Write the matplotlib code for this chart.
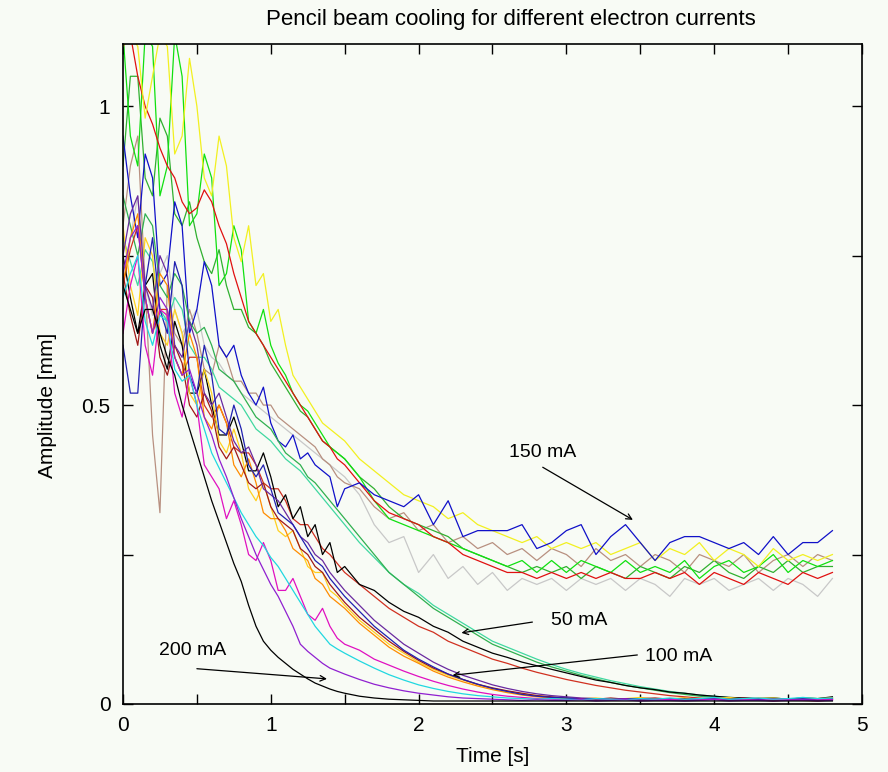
"""Pencil beam cooling curves for several electron currents."""
import matplotlib
matplotlib.use("Agg")
import matplotlib.pyplot as plt
from matplotlib import font_manager

BG = "#f8fbf5"
FIGSIZE = (8.88, 7.72)

# sampling times [s]: 0.05 s steps while the signal is noisy, 0.1 s after
time_s = [0.0, 0.05, 0.1, 0.15, 0.2, 0.25, 0.3, 0.35, 0.4, 0.45,
          0.5, 0.55, 0.6, 0.65, 0.7, 0.75, 0.8, 0.85, 0.9, 0.95,
          1.0, 1.05, 1.1, 1.15, 1.2, 1.25, 1.3, 1.35, 1.4, 1.45,
          1.5, 1.6, 1.7, 1.8, 1.9,
          2.0, 2.1, 2.2, 2.3, 2.4, 2.5, 2.6, 2.7, 2.8, 2.9,
          3.0, 3.1, 3.2, 3.3, 3.4, 3.5, 3.6, 3.7, 3.8, 3.9,
          4.0, 4.1, 4.2, 4.3, 4.4, 4.5, 4.6, 4.7, 4.8]

# --- 150 mA (levels off around 0.2-0.3 mm)
amp_150_blue = [0.95, 0.85, 0.78, 0.92, 0.88, 0.70, 0.72, 0.84, 0.80, 0.62,
                0.66, 0.74, 0.70, 0.60, 0.58, 0.60, 0.55, 0.52, 0.50, 0.53,
                0.47, 0.44, 0.43, 0.45, 0.41, 0.42, 0.40, 0.39, 0.38, 0.33,
                0.36, 0.37, 0.35, 0.34, 0.33,
                0.35, 0.30, 0.34, 0.28, 0.29, 0.29, 0.29, 0.30, 0.26, 0.27,
                0.29, 0.30, 0.25, 0.28, 0.30, 0.27, 0.24, 0.27, 0.28, 0.28,
                0.27, 0.26, 0.27, 0.25, 0.28, 0.25, 0.27, 0.27, 0.29]
amp_150_yellow = [1.10, 1.12, 1.10, 0.98, 1.05, 1.12, 1.10, 0.92, 0.95, 1.08,
                  1.00, 0.88, 0.85, 0.95, 0.90, 0.78, 0.74, 0.80, 0.70, 0.72,
                  0.64, 0.66, 0.60, 0.55, 0.53, 0.51, 0.49, 0.47, 0.46, 0.45,
                  0.44, 0.41, 0.39, 0.37, 0.35,
                  0.34, 0.33, 0.31, 0.32, 0.30, 0.29, 0.28, 0.27, 0.28, 0.26,
                  0.27, 0.26, 0.27, 0.25, 0.26, 0.27, 0.24, 0.26, 0.25, 0.27,
                  0.24, 0.26, 0.25, 0.23, 0.26, 0.24, 0.25, 0.24, 0.25]
amp_150_red = [1.10, 1.12, 1.05, 1.00, 0.97, 0.93, 0.90, 0.88, 0.84, 0.82,
               0.83, 0.86, 0.84, 0.80, 0.77, 0.72, 0.68, 0.64, 0.62, 0.60,
               0.58, 0.56, 0.54, 0.52, 0.50, 0.48, 0.46, 0.44, 0.43, 0.41,
               0.40, 0.37, 0.34, 0.32, 0.31,
               0.30, 0.28, 0.27, 0.25, 0.24, 0.23, 0.22, 0.22, 0.21, 0.22,
               0.21, 0.22, 0.21, 0.22, 0.21, 0.21, 0.22, 0.21, 0.22, 0.20,
               0.22, 0.21, 0.20, 0.22, 0.21, 0.20, 0.22, 0.21, 0.22]
amp_150_lime = [1.12, 0.95, 0.90, 1.12, 1.10, 0.85, 0.90, 1.12, 1.05, 0.80,
                0.82, 0.92, 0.88, 0.70, 0.72, 0.80, 0.76, 0.64, 0.62, 0.66,
                0.60, 0.57, 0.55, 0.52, 0.50, 0.49, 0.47, 0.45, 0.43, 0.42,
                0.41, 0.38, 0.34, 0.31, 0.30,
                0.29, 0.28, 0.27, 0.26, 0.25, 0.24, 0.23, 0.24, 0.22, 0.24,
                0.22, 0.24, 0.23, 0.22, 0.24, 0.22, 0.23, 0.22, 0.24, 0.21,
                0.23, 0.24, 0.22, 0.23, 0.25, 0.22, 0.24, 0.23, 0.24]
amp_150_green = [0.90, 1.05, 1.05, 0.88, 0.85, 0.98, 0.95, 0.82, 0.80, 0.84,
                 0.78, 0.74, 0.72, 0.76, 0.70, 0.66, 0.66, 0.63, 0.62, 0.60,
                 0.57, 0.55, 0.53, 0.51, 0.49, 0.48, 0.46, 0.44, 0.43, 0.42,
                 0.41, 0.38, 0.36, 0.33, 0.31,
                 0.30, 0.29, 0.28, 0.26, 0.25, 0.24, 0.23, 0.22, 0.23, 0.22,
                 0.23, 0.21, 0.23, 0.22, 0.21, 0.23, 0.22, 0.21, 0.23, 0.22,
                 0.24, 0.22, 0.21, 0.23, 0.22, 0.24, 0.22, 0.23, 0.23]
amp_150_tan = [0.80, 0.90, 0.95, 0.70, 0.45, 0.32, 0.70, 0.62, 0.60, 0.66,
               0.62, 0.56, 0.55, 0.60, 0.58, 0.54, 0.54, 0.52, 0.52, 0.50,
               0.50, 0.48, 0.47, 0.46, 0.45, 0.44, 0.43, 0.41, 0.40, 0.38,
               0.37, 0.36, 0.33, 0.31, 0.32,
               0.29, 0.30, 0.27, 0.28, 0.26, 0.27, 0.25, 0.26, 0.24, 0.26,
               0.25, 0.23, 0.26, 0.24, 0.25, 0.23, 0.25, 0.24, 0.22, 0.25,
               0.24, 0.23, 0.25, 0.22, 0.24, 0.25, 0.23, 0.25, 0.24]
amp_150_silver = [0.70, 0.78, 0.85, 0.70, 0.65, 0.72, 0.75, 0.66, 0.62, 0.64,
                  0.66, 0.60, 0.58, 0.57, 0.55, 0.54, 0.52, 0.51, 0.50, 0.49,
                  0.48, 0.47, 0.46, 0.45, 0.44, 0.43, 0.42, 0.41, 0.40, 0.39,
                  0.38, 0.35, 0.30, 0.27, 0.28,
                  0.22, 0.25, 0.21, 0.23, 0.20, 0.22, 0.19, 0.21, 0.20, 0.21,
                  0.19, 0.21, 0.20, 0.21, 0.19, 0.21, 0.20, 0.18, 0.21, 0.20,
                  0.21, 0.19, 0.20, 0.21, 0.19, 0.21, 0.20, 0.18, 0.21]

# --- 50 mA (slow decay to zero)
amp_50_black = [0.75, 0.68, 0.62, 0.70, 0.72, 0.60, 0.56, 0.64, 0.60, 0.52,
                0.52, 0.56, 0.50, 0.45, 0.45, 0.48, 0.44, 0.39, 0.39, 0.42,
                0.38, 0.33, 0.35, 0.31, 0.33, 0.28, 0.30, 0.25, 0.27, 0.22,
                0.23, 0.20, 0.19, 0.17, 0.155,
                0.145, 0.13, 0.12, 0.105, 0.095, 0.085, 0.078, 0.07, 0.064, 0.058,
                0.052, 0.046, 0.04, 0.036, 0.031, 0.027, 0.024, 0.02, 0.018, 0.015,
                0.013, 0.011, 0.01, 0.009, 0.01, 0.008, 0.01, 0.009, 0.012]
amp_50_green = [0.85, 0.80, 0.75, 0.82, 0.80, 0.70, 0.68, 0.72, 0.70, 0.64,
                0.62, 0.63, 0.60, 0.56, 0.55, 0.54, 0.52, 0.50, 0.48, 0.47,
                0.46, 0.44, 0.42, 0.41, 0.40, 0.38, 0.37, 0.355, 0.34, 0.325,
                0.31, 0.28, 0.25, 0.22, 0.20,
                0.18, 0.16, 0.145, 0.13, 0.115, 0.10, 0.09, 0.08, 0.07, 0.062,
                0.055, 0.048, 0.042, 0.036, 0.031, 0.027, 0.023, 0.019, 0.016, 0.013,
                0.011, 0.009, 0.008, 0.007, 0.008, 0.007, 0.008, 0.007, 0.009]
amp_50_aqua = [0.78, 0.74, 0.70, 0.76, 0.74, 0.66, 0.64, 0.68, 0.66, 0.60,
               0.58, 0.58, 0.56, 0.53, 0.52, 0.51, 0.50, 0.48, 0.46, 0.45,
               0.44, 0.425, 0.41, 0.40, 0.39, 0.375, 0.36, 0.345, 0.33, 0.315,
               0.30, 0.27, 0.245, 0.22, 0.20,
               0.185, 0.165, 0.15, 0.135, 0.12, 0.105, 0.095, 0.085, 0.075, 0.066,
               0.058, 0.051, 0.045, 0.039, 0.034, 0.029, 0.025, 0.021, 0.018, 0.015,
               0.013, 0.011, 0.01, 0.009, 0.01, 0.008, 0.01, 0.009, 0.011]
amp_50_red = [0.70, 0.76, 0.80, 0.68, 0.62, 0.66, 0.66, 0.58, 0.55, 0.58,
              0.58, 0.50, 0.48, 0.50, 0.47, 0.43, 0.42, 0.42, 0.40, 0.37,
              0.36, 0.36, 0.34, 0.31, 0.30, 0.30, 0.28, 0.26, 0.25, 0.235,
              0.22, 0.20, 0.18, 0.16, 0.145,
              0.13, 0.12, 0.105, 0.095, 0.085, 0.075, 0.068, 0.06, 0.053, 0.047,
              0.041, 0.036, 0.031, 0.027, 0.023, 0.02, 0.017, 0.014, 0.012, 0.01,
              0.008, 0.007, 0.006, 0.007, 0.005, 0.007, 0.006, 0.005, 0.007]

# --- 100 mA
amp_100_orange = [0.70, 0.78, 0.82, 0.68, 0.62, 0.72, 0.70, 0.58, 0.55, 0.62,
                  0.58, 0.48, 0.46, 0.50, 0.47, 0.40, 0.38, 0.41, 0.37, 0.32,
                  0.31, 0.31, 0.29, 0.26, 0.25, 0.24, 0.21, 0.20, 0.18, 0.17,
                  0.16, 0.135, 0.115, 0.095, 0.08,
                  0.068, 0.055, 0.045, 0.037, 0.03, 0.024, 0.019, 0.015, 0.012, 0.01,
                  0.009, 0.008, 0.009, 0.007, 0.008, 0.009, 0.007, 0.008, 0.01, 0.007,
                  0.008, 0.009, 0.007, 0.01, 0.008, 0.007, 0.009, 0.008, 0.01]
amp_100_gold = [0.80, 0.70, 0.65, 0.78, 0.75, 0.62, 0.60, 0.66, 0.62, 0.52,
                0.50, 0.56, 0.52, 0.44, 0.42, 0.46, 0.42, 0.36, 0.34, 0.37,
                0.33, 0.29, 0.28, 0.29, 0.26, 0.23, 0.22, 0.22, 0.19, 0.18,
                0.165, 0.14, 0.12, 0.10, 0.085,
                0.07, 0.058, 0.048, 0.04, 0.032, 0.026, 0.021, 0.017, 0.014, 0.011,
                0.01, 0.009, 0.01, 0.008, 0.009, 0.011, 0.008, 0.009, 0.01, 0.008,
                0.009, 0.011, 0.008, 0.009, 0.01, 0.008, 0.01, 0.009, 0.01]
amp_100_purple = [0.75, 0.82, 0.85, 0.70, 0.66, 0.75, 0.72, 0.60, 0.58, 0.64,
                  0.60, 0.52, 0.50, 0.52, 0.48, 0.44, 0.42, 0.43, 0.40, 0.36,
                  0.35, 0.34, 0.32, 0.30, 0.28, 0.27, 0.25, 0.24, 0.22, 0.205,
                  0.19, 0.165, 0.14, 0.12, 0.10,
                  0.085, 0.07, 0.058, 0.048, 0.04, 0.032, 0.026, 0.021, 0.017, 0.014,
                  0.012, 0.01, 0.009, 0.008, 0.009, 0.007, 0.008, 0.009, 0.007, 0.008,
                  0.009, 0.007, 0.008, 0.009, 0.008, 0.007, 0.009, 0.008, 0.009]
amp_100_maroon = [0.72, 0.65, 0.60, 0.70, 0.68, 0.58, 0.55, 0.60, 0.57, 0.50,
                  0.48, 0.52, 0.49, 0.43, 0.41, 0.43, 0.40, 0.37, 0.36, 0.37,
                  0.33, 0.31, 0.30, 0.29, 0.26, 0.25, 0.23, 0.22, 0.20, 0.185,
                  0.17, 0.145, 0.125, 0.105, 0.088,
                  0.073, 0.06, 0.05, 0.041, 0.033, 0.027, 0.022, 0.018, 0.014, 0.012,
                  0.01, 0.009, 0.008, 0.01, 0.008, 0.009, 0.01, 0.008, 0.009, 0.007,
                  0.009, 0.008, 0.01, 0.008, 0.009, 0.007, 0.009, 0.008, 0.008]
amp_100_navy = [0.60, 0.52, 0.52, 0.70, 0.78, 0.66, 0.62, 0.74, 0.70, 0.55,
                0.52, 0.60, 0.55, 0.46, 0.45, 0.50, 0.46, 0.40, 0.38, 0.40,
                0.36, 0.32, 0.31, 0.30, 0.28, 0.26, 0.24, 0.23, 0.21, 0.195,
                0.18, 0.155, 0.13, 0.11, 0.09,
                0.075, 0.062, 0.05, 0.041, 0.033, 0.026, 0.021, 0.016, 0.013, 0.011,
                0.01, 0.008, 0.009, 0.007, 0.008, 0.009, 0.007, 0.008, 0.007, 0.009,
                0.008, 0.007, 0.009, 0.008, 0.007, 0.009, 0.008, 0.007, 0.008]
amp_100_magenta = [0.62, 0.70, 0.75, 0.60, 0.55, 0.66, 0.65, 0.52, 0.48, 0.55,
                   0.50, 0.40, 0.38, 0.36, 0.31, 0.34, 0.30, 0.25, 0.24, 0.27,
                   0.24, 0.19, 0.19, 0.21, 0.18, 0.15, 0.14, 0.16, 0.13, 0.11,
                   0.10, 0.09, 0.075, 0.065, 0.055,
                   0.046, 0.038, 0.031, 0.025, 0.02, 0.016, 0.013, 0.011, 0.009, 0.008,
                   0.007, 0.008, 0.006, 0.007, 0.008, 0.006, 0.007, 0.008, 0.006, 0.007,
                   0.008, 0.006, 0.007, 0.006, 0.008, 0.007, 0.006, 0.007, 0.007]

# --- 200 mA (fast decay)
amp_200_black = [0.70, 0.66, 0.62, 0.66, 0.66, 0.62, 0.58, 0.55, 0.50, 0.46,
                 0.42, 0.38, 0.34, 0.305, 0.27, 0.235, 0.205, 0.165, 0.13, 0.105,
                 0.09, 0.078, 0.068, 0.058, 0.05, 0.042, 0.035, 0.03, 0.025, 0.021,
                 0.018, 0.013, 0.01, 0.008, 0.007,
                 0.006, 0.005, 0.005, 0.005, 0.005, 0.005, 0.005, 0.005, 0.005, 0.005,
                 0.005, 0.005, 0.005, 0.005, 0.005, 0.005, 0.005, 0.005, 0.005, 0.005,
                 0.005, 0.005, 0.005, 0.005, 0.005, 0.005, 0.005, 0.005, 0.005]
amp_200_violet = [0.72, 0.78, 0.80, 0.68, 0.62, 0.68, 0.66, 0.58, 0.55, 0.56,
                  0.52, 0.48, 0.45, 0.41, 0.38, 0.345, 0.31, 0.28, 0.25, 0.225,
                  0.20, 0.18, 0.155, 0.13, 0.10, 0.088, 0.078, 0.068, 0.06, 0.055,
                  0.05, 0.041, 0.033, 0.027, 0.022,
                  0.018, 0.015, 0.012, 0.01, 0.009, 0.008, 0.007, 0.006, 0.007, 0.006,
                  0.006, 0.007, 0.005, 0.006, 0.007, 0.005, 0.006, 0.006, 0.005, 0.006,
                  0.007, 0.005, 0.006, 0.006, 0.005, 0.006, 0.007, 0.005, 0.006]
amp_200_cyan = [0.68, 0.72, 0.75, 0.64, 0.60, 0.65, 0.64, 0.56, 0.54, 0.55,
                0.50, 0.46, 0.42, 0.395, 0.37, 0.345, 0.32, 0.30, 0.28, 0.265,
                0.245, 0.23, 0.21, 0.19, 0.17, 0.15, 0.13, 0.115, 0.10, 0.092,
                0.085, 0.072, 0.06, 0.049, 0.04,
                0.032, 0.026, 0.021, 0.017, 0.014, 0.012, 0.01, 0.009, 0.008, 0.009,
                0.008, 0.007, 0.009, 0.008, 0.007, 0.009, 0.008, 0.01, 0.008, 0.009,
                0.011, 0.008, 0.009, 0.01, 0.008, 0.009, 0.011, 0.009, 0.01]

SERIES = [
    (amp_150_silver, "#c8c8c8"),
    (amp_150_tan, "#b89080"),
    (amp_150_green, "#30b030"),
    (amp_150_lime, "#10e010"),
    (amp_150_red, "#e01010"),
    (amp_150_yellow, "#f2f020"),
    (amp_150_blue, "#1010c8"),
    (amp_50_aqua, "#40d8a0"),
    (amp_50_green, "#30b050"),
    (amp_50_red, "#d03020"),
    (amp_50_black, "#000000"),
    (amp_100_gold, "#ffd020"),
    (amp_100_orange, "#ff8c00"),
    (amp_100_maroon, "#a01818"),
    (amp_100_purple, "#6a2aa0"),
    (amp_100_navy, "#2020b0"),
    (amp_100_magenta, "#e010c0"),
    (amp_200_cyan, "#20d8e0"),
    (amp_200_violet, "#9020d0"),
    (amp_200_black, "#000000"),
]

# (text, text position, arrow tip, arrow tail)
ANNOTATIONS = [
    ("150 mA", (2.84, 0.42), (3.45, 0.308), (2.84, 0.396)),
    ("50 mA", (3.09, 0.14), (2.29, 0.119), (2.77, 0.137)),
    ("100 mA", (3.76, 0.079), (2.23, 0.048), (3.48, 0.082)),
    ("200 mA", (0.47, 0.089), (1.38, 0.042), (0.50, 0.059)),
]


def pick_font():
    for name in ["Liberation Sans Narrow", "DejaVu Sans Condensed", "Liberation Sans"]:
        try:
            font_manager.findfont(name, fallback_to_default=False)
            return name
        except ValueError:
            continue
    return "DejaVu Sans"


plt.rcParams["font.family"] = [pick_font(), "DejaVu Sans"]

fig = plt.figure(figsize=FIGSIZE, dpi=100, facecolor=BG)
ax = fig.add_axes([0.1385, 0.0881, 0.8322, 0.8549], facecolor=BG)

for values, color in SERIES:
    assert len(values) == len(time_s)
    ax.plot(time_s, values, color=color, lw=0.9)

for text, xy_text, xy_tip, xy_tail in ANNOTATIONS:
    ax.text(xy_text[0], xy_text[1], text, fontsize=14, ha="center", va="center")
    ax.annotate("", xy=xy_tip, xytext=xy_tail,
                arrowprops=dict(arrowstyle="->", color="black", lw=0.9,
                                shrinkA=0, shrinkB=0))

ax.set_xlim(0, 5)
ax.set_ylim(0, 1.104)
ax.set_xticks([0, 1, 2, 3, 4, 5])
ax.set_xticks([0.5, 1.5, 2.5, 3.5, 4.5], minor=True)
ax.set_yticks([0, 0.5, 1])
ax.set_yticks([0.25, 0.75], minor=True)
ax.set_xticklabels(["0", "1", "2", "3", "4", "5"])
ax.set_yticklabels(["0", "0.5", "1"])
ax.tick_params(which="both", direction="in", top=True, right=True,
               length=7, width=1, labelsize=15, pad=9)
for spine in ax.spines.values():
    spine.set_linewidth(1.2)

ax.set_xlabel("Time [s]", fontsize=15, labelpad=8)
ax.set_ylabel("Amplitude [mm]", fontsize=15)
ax.yaxis.set_label_coords(-0.089, 0.453)
fig.text(511 / 888, 1 - 19 / 772, "Pencil beam cooling for different electron currents",
         fontsize=16, ha="center", va="center")

fig.savefig("out.png", dpi=100, facecolor=BG)
